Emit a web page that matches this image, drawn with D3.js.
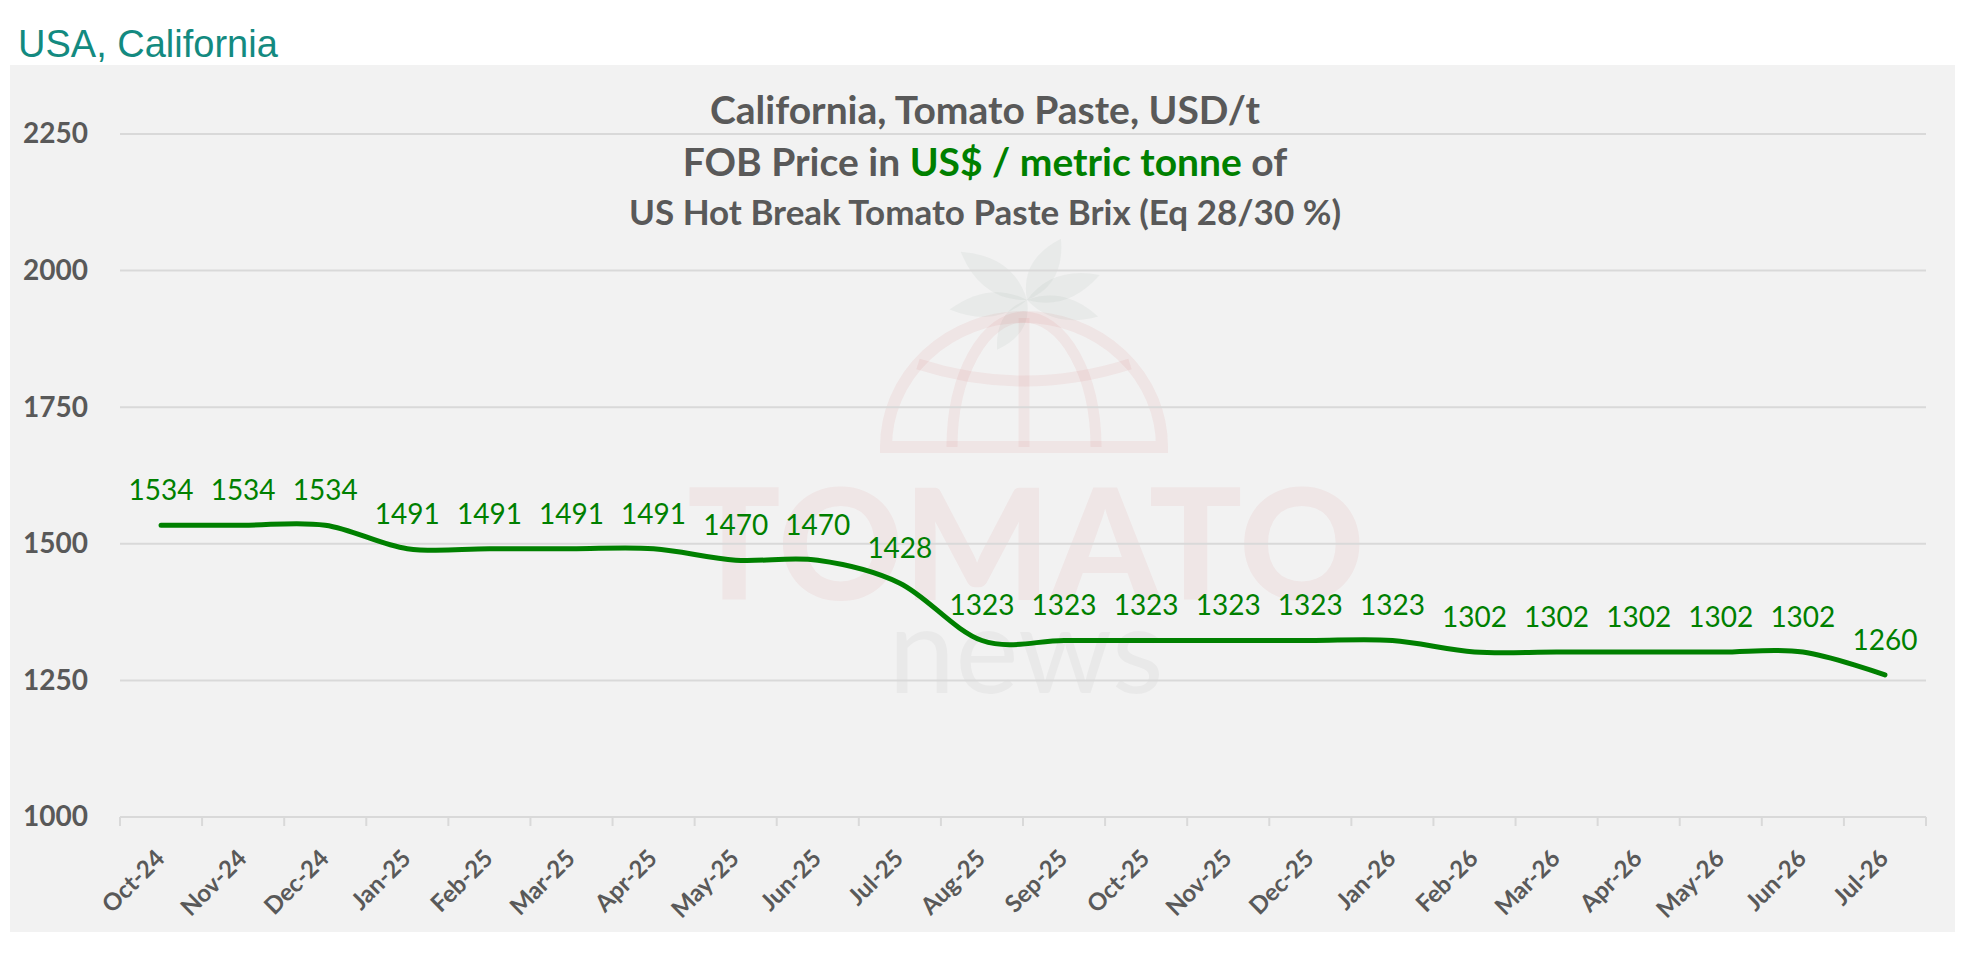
<!DOCTYPE html>
<head>
  <meta charset="utf-8">
  <script src="https://d3js.org/d3.v7.min.js"></script>
  <style>
    body { margin: 0; background: #ffffff; }
    svg { display: block; }
  </style>
</head>
<body>
<script type="text/javascript">

  // data
  var months = ["Oct-24", "Nov-24", "Dec-24", "Jan-25", "Feb-25", "Mar-25", "Apr-25", "May-25",
                "Jun-25", "Jul-25", "Aug-25", "Sep-25", "Oct-25", "Nov-25", "Dec-25", "Jan-26",
                "Feb-26", "Mar-26", "Apr-26", "May-26", "Jun-26", "Jul-26"];
  var prices = [1534, 1534, 1534, 1491, 1491, 1491, 1491, 1470,
                1470, 1428, 1323, 1323, 1323, 1323, 1323, 1323,
                1302, 1302, 1302, 1302, 1302, 1260];
  var yTicks = [1000, 1250, 1500, 1750, 2000, 2250];

  var width = 1968, height = 954;
  var plot = { left: 120, right: 1926, top: 134, bottom: 817 };
  var gray = "#595959", green = "#008000";

  var svg = d3.select("body").append("svg")
    .attr("width", width)
    .attr("height", height);

  // heading above the panel
  svg.append("text")
    .attr("x", 18).attr("y", 57)
    .style("font-family", "'Liberation Sans', Arial, sans-serif")
    .style("font-size", "38px")
    .style("fill", "#138a80")
    .text("USA, California");

  // chart area
  svg.append("rect")
    .attr("x", 10).attr("y", 65)
    .attr("width", 1945).attr("height", 867)
    .attr("fill", "#f2f2f2");

  // watermark logo (faint globe + leaves)
  var wm = svg.append("g").attr("class", "watermark");
  var pink = "rgba(205,40,40,0.06)";
  var cx = 1024, base = 447;
  wm.append("path")
    .attr("d", "M" + (cx - 138) + "," + base + " A138,130 0 0 1 " + (cx + 138) + "," + base + " Z")
    .attr("fill", "none").attr("stroke", pink).attr("stroke-width", 12);
  wm.append("path")
    .attr("d", "M" + (cx - 72) + "," + base + " A72,130 0 0 1 " + (cx + 72) + "," + base)
    .attr("fill", "none").attr("stroke", pink).attr("stroke-width", 11);
  wm.append("line")
    .attr("x1", cx).attr("x2", cx).attr("y1", 318).attr("y2", base)
    .attr("stroke", pink).attr("stroke-width", 11);
  wm.append("path")
    .attr("d", "M" + (cx - 106) + ",364 Q" + cx + ",398 " + (cx + 106) + ",364")
    .attr("fill", "none").attr("stroke", pink).attr("stroke-width", 11);

  // leaves: [angle, length, half width]
  var leaves = [[-61, 70, 13], [-144, 82, 14], [173, 78, 12], [-19, 77, 12], [13, 73, 11], [121, 58, 11]];
  wm.selectAll(".leaf")
    .data(leaves)
    .enter().append("path")
    .attr("class", "leaf")
    .attr("d", d => "M0,0 Q" + d[1] * 0.45 + "," + (-d[2] * 2) + " " + d[1] + ",0 Q" + d[1] * 0.45 + "," + (d[2] * 2) + " 0,0 Z")
    .attr("transform", d => "translate(1027,300) rotate(" + d[0] + ")")
    .attr("fill", "rgba(60,100,70,0.05)");

  wm.append("text")
    .attr("x", 1026).attr("y", 600)
    .attr("text-anchor", "middle")
    .style("font-family", "Lato, sans-serif")
    .style("font-weight", "900")
    .style("font-size", "155px")
    .style("fill", "rgba(205,40,40,0.055)")
    .text("TOMATO");
  wm.append("text")
    .attr("x", 1026).attr("y", 693)
    .attr("text-anchor", "middle")
    .style("font-family", "Lato, sans-serif")
    .style("font-size", "120px")
    .style("fill", "rgba(0,0,0,0.035)")
    .text("news");

  // scales
  var x = d3.scaleBand()
    .domain(months)
    .range([plot.left, plot.right])
    .padding(0);

  var y = d3.scaleLinear()
    .domain([1000, 2250])
    .range([plot.bottom, plot.top]);

  // gridlines
  svg.append("g")
    .selectAll("line")
    .data(yTicks.slice(1))
    .enter().append("line")
    .attr("x1", plot.left).attr("x2", plot.right)
    .attr("y1", d => y(d)).attr("y2", d => y(d))
    .attr("stroke", "#d9d9d9").attr("stroke-width", 2);

  // y axis labels
  var yAxis = d3.axisLeft(y)
    .tickValues(yTicks)
    .tickFormat(d3.format("d"))
    .tickSize(0)
    .tickPadding(0);

  var yG = svg.append("g")
    .attr("transform", "translate(88,0)")
    .call(yAxis);
  yG.select(".domain").remove();
  yG.selectAll("text")
    .style("font-family", "Lato, sans-serif")
    .style("font-weight", "bold")
    .style("font-size", "28px")
    .style("fill", gray);

  // x axis: line, ticks between categories, rotated labels
  var xG = svg.append("g");
  xG.append("line")
    .attr("x1", plot.left).attr("x2", plot.right)
    .attr("y1", plot.bottom).attr("y2", plot.bottom)
    .attr("stroke", "#d9d9d9").attr("stroke-width", 2);
  xG.selectAll(".tick")
    .data(months.concat([null]))
    .enter().append("line")
    .attr("class", "tick")
    .attr("x1", d => d ? x(d) : plot.right)
    .attr("x2", d => d ? x(d) : plot.right)
    .attr("y1", plot.bottom).attr("y2", plot.bottom + 9)
    .attr("stroke", "#d9d9d9").attr("stroke-width", 2);
  xG.selectAll(".lbl")
    .data(months)
    .enter().append("text")
    .attr("class", "lbl")
    .attr("text-anchor", "end")
    .attr("transform", d => "translate(" + (x(d) + x.bandwidth() / 2 + 5) + "," + 860 + ") rotate(-45)")
    .style("font-family", "Lato, sans-serif")
    .style("font-weight", "bold")
    .style("font-size", "24px")
    .style("fill", gray)
    .text(d => d);

  // price line
  var line = d3.line()
    .x((d, i) => x(months[i]) + x.bandwidth() / 2)
    .y(d => y(d))
    .curve(d3.curveCardinal.tension(0));

  svg.append("path")
    .datum(prices)
    .attr("d", line)
    .attr("fill", "none")
    .attr("stroke", green)
    .attr("stroke-width", 5)
    .attr("stroke-linecap", "round");

  // data labels
  svg.append("g")
    .selectAll("text")
    .data(prices)
    .enter().append("text")
    .attr("x", (d, i) => x(months[i]) + x.bandwidth() / 2)
    .attr("y", d => y(d) - 35)
    .attr("dy", "0.35em")
    .attr("text-anchor", "middle")
    .style("font-family", "Lato, sans-serif")
    .style("font-size", "28px")
    .style("fill", green)
    .text(d => d);

  // titles
  var titles = svg.append("g")
    .attr("text-anchor", "middle")
    .style("font-family", "Lato, sans-serif")
    .style("font-weight", "bold")
    .style("fill", gray);

  titles.append("text")
    .attr("x", 985).attr("y", 124)
    .style("font-size", "39px")
    .text("California, Tomato Paste, USD/t");

  var t2 = titles.append("text")
    .attr("x", 985).attr("y", 176)
    .style("font-size", "39px");
  t2.append("tspan").text("FOB Price in ");
  t2.append("tspan").style("fill", green).text("US$ / metric tonne");
  t2.append("tspan").text(" of");

  titles.append("text")
    .attr("x", 985).attr("y", 225)
    .style("font-size", "35px")
    .text("US Hot Break Tomato Paste Brix (Eq 28/30 %)");

</script>
</body>
